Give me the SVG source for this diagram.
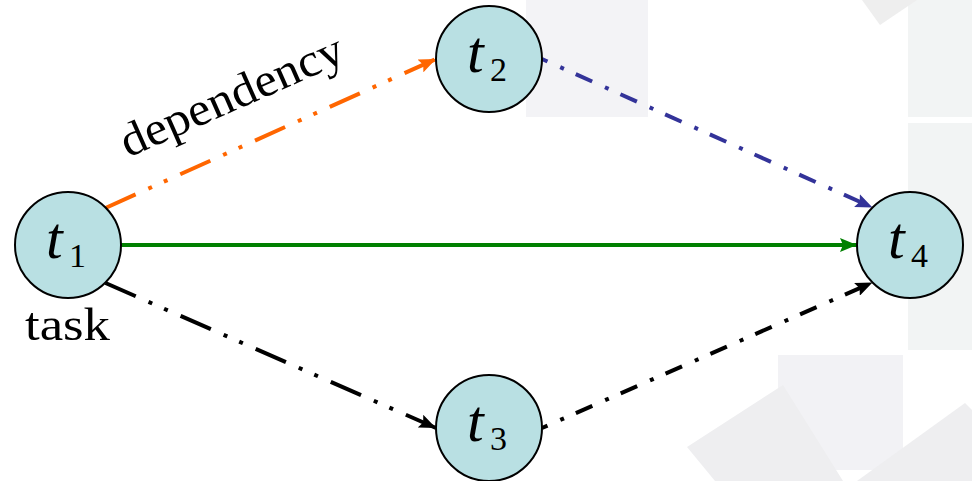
<svg xmlns="http://www.w3.org/2000/svg" width="972" height="481" viewBox="0 0 972 481">
  <defs>
    <style>
      .node circle { fill: #B9E0E3; stroke: #000; stroke-width: 2; }
      text { font-family: 'Liberation Serif', 'DejaVu Serif', serif; fill: #000; }
      .t { font-style: italic; font-size: 60px; }
      .sub { font-size: 34px; }
      .edge { fill: none; stroke-width: 4; }
      .dd { stroke-dasharray: 33 14 4 13 4 14; }
      .d1 { stroke-dasharray: 18 14 4 13; }
    </style>
    <marker id="arrOrange" markerUnits="userSpaceOnUse" markerWidth="17" markerHeight="14" viewBox="0 0 17 14" refX="17" refY="7" orient="auto">
      <path d="M0,0 L17,7 L0,14 L3,7 z" fill="#FF6600"/>
    </marker>
    <marker id="arrBlue" markerUnits="userSpaceOnUse" markerWidth="17" markerHeight="14" viewBox="0 0 17 14" refX="17" refY="7" orient="auto">
      <path d="M0,0 L17,7 L0,14 L3,7 z" fill="#333399"/>
    </marker>
    <marker id="arrGreen" markerUnits="userSpaceOnUse" markerWidth="17" markerHeight="14" viewBox="0 0 17 14" refX="17" refY="7" orient="auto">
      <path d="M0,0 L17,7 L0,14 L3,7 z" fill="#008000"/>
    </marker>
    <marker id="arrBlack" markerUnits="userSpaceOnUse" markerWidth="17" markerHeight="14" viewBox="0 0 17 14" refX="17" refY="7" orient="auto">
      <path d="M0,0 L17,7 L0,14 L3,7 z" fill="#000"/>
    </marker>
  </defs>

  <rect x="0" y="0" width="972" height="481" fill="#FFFFFF"/>

  <g id="background">
    <rect x="526" y="0" width="122" height="117" fill="#F3F3F6"/>
    <rect x="908" y="0" width="64" height="117" fill="#F2F4F4"/>
    <rect x="908" y="123" width="64" height="227" fill="#F2F4F4"/>
    <polygon points="862,0 917,0 880,25" fill="#EEEEEE"/>
    <rect x="778" y="355" width="125" height="115" fill="#F2F2F5"/>
    <polygon points="687,447 783,385 843,481 715,481" fill="#EEEEF0"/>
    <polygon points="857,481 965,403 972,410 972,481" fill="#EEEEF0"/>
  </g>

  <g id="connectors">
    <path class="edge dd" stroke="#FF6600" d="M105.5,208 L436,59" marker-end="url(#arrOrange)"/>
    <path class="edge d1" stroke="#333399" stroke-dashoffset="12" d="M542,59 L872.5,207.5" marker-end="url(#arrBlue)"/>
    <path class="edge" stroke="#008000" stroke-width="3.5" d="M121,245 L857,245" marker-end="url(#arrGreen)"/>
    <path class="edge dd" stroke="#000" d="M105.5,283 L436,428" marker-end="url(#arrBlack)"/>
    <path class="edge d1" stroke="#000" stroke-dashoffset="12" d="M542,428 L872.5,282.5" marker-end="url(#arrBlack)"/>
    <text font-size="47" textLength="240" lengthAdjust="spacingAndGlyphs" transform="translate(128,158) rotate(-23.9)">dependency</text>
  </g>

  <g id="t1" class="node">
    <circle cx="68" cy="245" r="53"/>
    <text><tspan class="t" x="46" y="258">t</tspan><tspan class="sub" x="69" y="267">1</tspan></text>
    <text x="25" y="340" font-size="47" textLength="85" lengthAdjust="spacingAndGlyphs">task</text>
  </g>

  <g id="t2" class="node">
    <circle cx="489" cy="59" r="53"/>
    <text><tspan class="t" x="467" y="72">t</tspan><tspan class="sub" x="490" y="81">2</tspan></text>
  </g>

  <g id="t3" class="node">
    <circle cx="489" cy="428" r="53"/>
    <text><tspan class="t" x="467" y="441">t</tspan><tspan class="sub" x="490" y="450">3</tspan></text>
  </g>

  <g id="t4" class="node">
    <circle cx="910" cy="245" r="53"/>
    <text><tspan class="t" x="888" y="258">t</tspan><tspan class="sub" x="911" y="267">4</tspan></text>
  </g>
</svg>
